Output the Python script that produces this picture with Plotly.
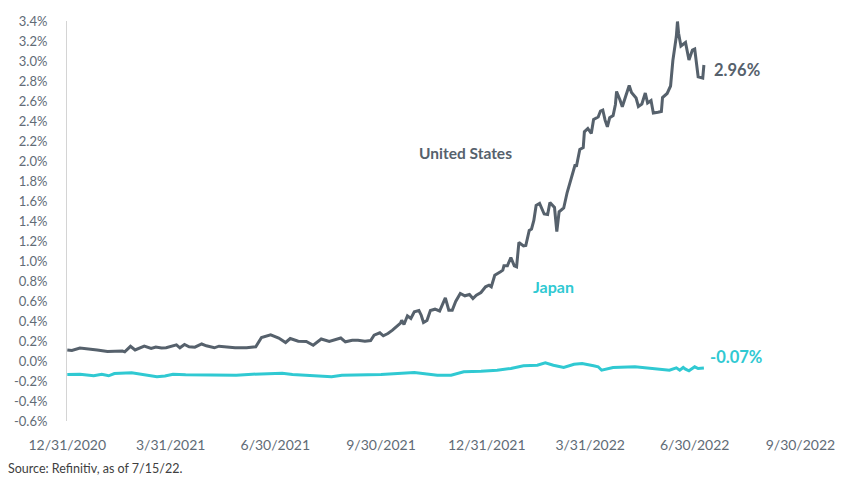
import plotly.graph_objects as go

# ---- Data ----
us_dates = [
    "2020-12-31", "2021-01-04", "2021-01-11", "2021-01-17", "2021-01-26", "2021-02-04", "2021-02-11",
    "2021-02-17", "2021-02-19", "2021-02-24", "2021-02-28", "2021-03-08", "2021-03-14", "2021-03-18",
    "2021-03-23", "2021-03-27", "2021-04-05", "2021-04-08", "2021-04-12", "2021-04-16", "2021-04-21",
    "2021-04-27", "2021-05-01", "2021-05-08", "2021-05-12", "2021-05-18", "2021-05-26", "2021-06-05",
    "2021-06-13", "2021-06-18", "2021-06-22", "2021-06-26", "2021-07-03", "2021-07-09", "2021-07-13",
    "2021-07-20", "2021-07-27", "2021-08-02", "2021-08-09", "2021-08-16", "2021-08-26", "2021-08-30",
    "2021-09-05", "2021-09-10", "2021-09-16", "2021-09-21", "2021-09-24", "2021-09-29", "2021-10-02",
    "2021-10-06", "2021-10-10", "2021-10-14", "2021-10-17", "2021-10-18", "2021-10-20", "2021-10-23",
    "2021-10-26", "2021-10-29", "2021-11-02", "2021-11-04", "2021-11-06", "2021-11-09", "2021-11-12",
    "2021-11-16", "2021-11-20", "2021-11-25", "2021-11-28", "2021-12-01", "2021-12-04", "2021-12-08",
    "2021-12-12", "2021-12-16", "2021-12-19", "2021-12-22", "2021-12-26", "2021-12-30", "2022-01-02",
    "2022-01-04", "2022-01-07", "2022-01-12", "2022-01-14", "2022-01-15", "2022-01-18", "2022-01-21",
    "2022-01-24", "2022-01-26", "2022-01-28", "2022-02-01", "2022-02-03", "2022-02-06", "2022-02-08",
    "2022-02-10", "2022-02-12", "2022-02-15", "2022-02-19", "2022-02-22", "2022-02-24", "2022-02-28",
    "2022-03-02", "2022-03-04", "2022-03-08", "2022-03-11", "2022-03-15", "2022-03-18", "2022-03-19",
    "2022-03-22", "2022-03-25", "2022-03-26", "2022-03-29", "2022-04-01", "2022-04-03", "2022-04-07",
    "2022-04-09", "2022-04-11", "2022-04-13", "2022-04-15", "2022-04-17", "2022-04-20", "2022-04-22",
    "2022-04-23", "2022-04-26", "2022-04-28", "2022-05-01", "2022-05-04", "2022-05-06", "2022-05-10",
    "2022-05-12", "2022-05-15", "2022-05-18", "2022-05-20", "2022-05-23", "2022-05-25", "2022-05-29",
    "2022-06-01", "2022-06-02", "2022-06-06", "2022-06-09", "2022-06-11", "2022-06-14", "2022-06-15",
    "2022-06-16", "2022-06-18", "2022-06-22", "2022-06-25", "2022-06-28", "2022-06-30", "2022-07-03",
    "2022-07-07", "2022-07-08",
]
us_values = [
    0.110, 0.105, 0.130, 0.125, 0.110, 0.095, 0.100,
    0.100, 0.092, 0.147, 0.110, 0.150, 0.125, 0.140,
    0.130, 0.132, 0.162, 0.132, 0.165, 0.142, 0.138,
    0.170, 0.152, 0.132, 0.148, 0.142, 0.132, 0.132,
    0.142, 0.235, 0.252, 0.262, 0.230, 0.185, 0.225,
    0.198, 0.195, 0.158, 0.220, 0.195, 0.230, 0.192,
    0.208, 0.208, 0.198, 0.205, 0.258, 0.282, 0.252,
    0.275, 0.308, 0.355, 0.380, 0.408, 0.365, 0.452,
    0.425, 0.492, 0.505, 0.458, 0.385, 0.405, 0.505,
    0.518, 0.500, 0.632, 0.508, 0.508, 0.595, 0.675,
    0.652, 0.665, 0.625, 0.658, 0.685, 0.742, 0.758,
    0.742, 0.858, 0.892, 0.908, 0.952, 0.952, 1.035,
    0.952, 0.942, 1.185, 1.150, 1.155, 1.305, 1.320,
    1.405, 1.555, 1.575, 1.470, 1.465, 1.585, 1.535,
    1.295, 1.492, 1.530, 1.685, 1.835, 1.965, 1.942,
    2.115, 2.135, 2.292, 2.325, 2.275, 2.415, 2.440,
    2.500, 2.510, 2.408, 2.342, 2.432, 2.455, 2.565,
    2.695, 2.610, 2.542, 2.650, 2.755, 2.685, 2.630,
    2.545, 2.570, 2.680, 2.580, 2.605, 2.480, 2.488,
    2.495, 2.635, 2.675, 2.750, 3.005, 3.245, 3.395,
    3.275, 3.150, 3.185, 3.010, 3.110, 3.120, 2.842,
    2.830, 2.960,
]

jp_dates = [
    "2020-12-31", "2021-01-11", "2021-01-23", "2021-01-30", "2021-02-05", "2021-02-10", "2021-02-25",
    "2021-03-08", "2021-03-19", "2021-03-26", "2021-04-02", "2021-04-13", "2021-05-27", "2021-06-10",
    "2021-06-27", "2021-07-06", "2021-07-15", "2021-08-01", "2021-08-18", "2021-08-27", "2021-09-10",
    "2021-09-30", "2021-10-29", "2021-11-18", "2021-11-30", "2021-12-11", "2021-12-26", "2022-01-09",
    "2022-01-21", "2022-02-01", "2022-02-13", "2022-02-20", "2022-02-27", "2022-03-08", "2022-03-17",
    "2022-03-24", "2022-04-03", "2022-04-07", "2022-04-10", "2022-04-14", "2022-04-20", "2022-05-09",
    "2022-05-22", "2022-06-02", "2022-06-08", "2022-06-14", "2022-06-17", "2022-06-20", "2022-06-22",
    "2022-06-25", "2022-06-30", "2022-07-03", "2022-07-08",
]
jp_values = [
    -0.135, -0.132, -0.148, -0.132, -0.148, -0.125, -0.118,
    -0.135, -0.158, -0.150, -0.132, -0.138, -0.142, -0.132,
    -0.122, -0.122, -0.135, -0.148, -0.158, -0.142, -0.138,
    -0.135, -0.115, -0.142, -0.142, -0.108, -0.102, -0.092,
    -0.075, -0.048, -0.042, -0.018, -0.042, -0.065, -0.032,
    -0.025, -0.048, -0.058, -0.092, -0.082, -0.065, -0.058,
    -0.075, -0.085, -0.092, -0.068, -0.092, -0.065, -0.082,
    -0.098, -0.058, -0.075, -0.070,
]

x_tick_dates = ["2020-12-31", "2021-03-31", "2021-06-30", "2021-09-30",
                "2021-12-31", "2022-03-31", "2022-06-30", "2022-09-30"]
x_tick_labels = ["12/31/2020", "3/31/2021", "6/30/2021", "9/30/2021",
                 "12/31/2021", "3/31/2022", "6/30/2022", "9/30/2022"]
y_tick_vals = [-0.6, -0.4, -0.2, 0.0, 0.2, 0.4, 0.6, 0.8, 1.0, 1.2, 1.4, 1.6,
               1.8, 2.0, 2.2, 2.4, 2.6, 2.8, 3.0, 3.2, 3.4]
y_tick_labels = [f"{v:.1f}%" for v in y_tick_vals]

series_names = ["United States", "Japan"]
end_labels = ["2.96%", "-0.07%"]
source_text = "Source: Refinitiv, as of 7/15/22."

US_COLOR = "#56616c"
JP_COLOR = "#30c9d2"
TICK_COLOR = "#616b76"
FONT = "Lato"

fig = go.Figure()
fig.add_trace(go.Scatter(x=us_dates, y=us_values, mode="lines", name=series_names[0],
                         line=dict(color=US_COLOR, width=3)))
fig.add_trace(go.Scatter(x=jp_dates, y=jp_values, mode="lines", name=series_names[1],
                         line=dict(color=JP_COLOR, width=3)))

fig.update_layout(
    width=847, height=485,
    margin=dict(l=67, r=41, t=21, b=64),
    paper_bgcolor="white", plot_bgcolor="white",
    showlegend=False,
    font=dict(family=FONT, size=13, color=TICK_COLOR),
    xaxis=dict(
        type="date",
        range=["2020-12-30 18:00", "2022-09-30 12:00"],
        tickmode="array", tickvals=x_tick_dates, ticktext=x_tick_labels,
        showgrid=False, zeroline=False, showline=False, ticks="",
        ticklabelstandoff=14,
        tickfont=dict(family=FONT, size=14, color=TICK_COLOR),
    ),
    yaxis=dict(
        range=[-0.6, 3.4],
        tickmode="array", tickvals=y_tick_vals, ticktext=y_tick_labels,
        showgrid=False, zeroline=False,
        showline=True, linecolor="#d4d4d4", linewidth=1,
        ticks="", ticklabelstandoff=16,
        tickfont=dict(family=FONT, size=13, color=TICK_COLOR),
    ),
)

fig.add_annotation(x=0.5426, y=0.67, xref="paper", yref="paper", text=series_names[0],
                   showarrow=False, xanchor="center", yanchor="middle",
                   font=dict(family=FONT, size=15.5, color=US_COLOR, weight=700))
fig.add_annotation(x=0.663, y=0.3375, xref="paper", yref="paper", text=series_names[1],
                   showarrow=False, xanchor="center", yanchor="middle",
                   font=dict(family=FONT, size=16, color=JP_COLOR, weight=700))
fig.add_annotation(x=us_dates[-1], y=us_values[-1], xref="x", yref="y", text=end_labels[0],
                   showarrow=False, xanchor="left", yanchor="middle", xshift=8, yshift=-5,
                   font=dict(family=FONT, size=16.5, color=US_COLOR, weight=700))
fig.add_annotation(x=jp_dates[-1], y=jp_values[-1], xref="x", yref="y", text=end_labels[1],
                   showarrow=False, xanchor="left", yanchor="middle", xshift=4, yshift=11,
                   font=dict(family=FONT, size=16.5, color=JP_COLOR, weight=700))
fig.add_annotation(x=-0.0825, y=-0.1175, xref="paper", yref="paper", text=source_text,
                   showarrow=False, xanchor="left", yanchor="middle",
                   font=dict(family=FONT, size=12.5, color="#404040"))

fig.write_html("out.html")
